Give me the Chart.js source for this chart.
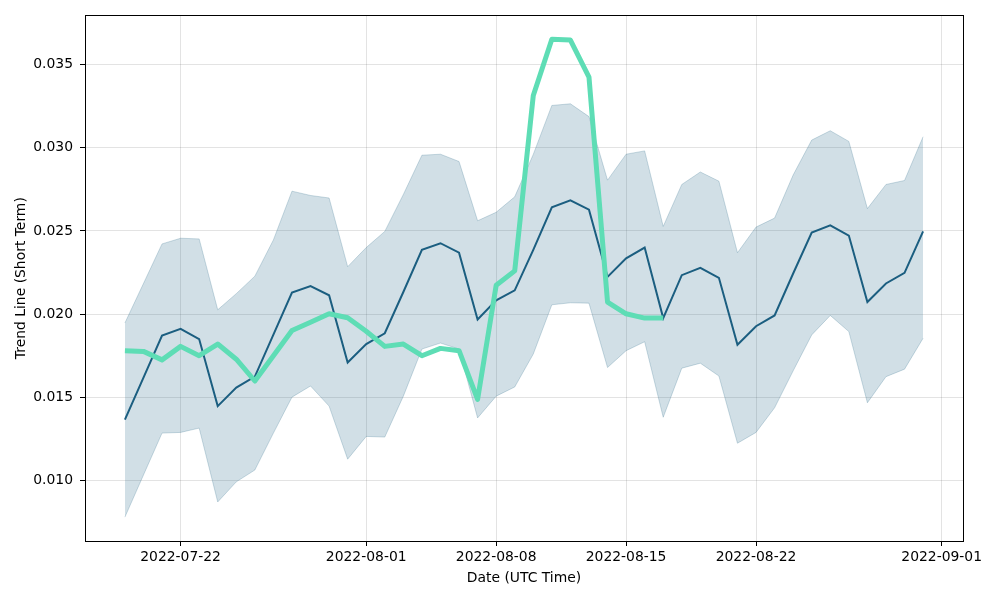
<!DOCTYPE html>
<html>
<head>
<meta charset="utf-8">
<script src="https://cdn.jsdelivr.net/npm/chart.js@4.4.0/dist/chart.umd.min.js"></script>
<style>
  html, body { margin: 0; padding: 0; background: #fff; }
  #wrap { width: 1000px; height: 600px; }
</style>
</head>
<body>
<div id="wrap"><canvas id="trendChart"></canvas></div>
<script>
// daily dates, 2022-07-19 .. 2022-08-31
const dates = [
  '2022-07-19','2022-07-20','2022-07-21','2022-07-22','2022-07-23','2022-07-24','2022-07-25','2022-07-26',
  '2022-07-27','2022-07-28','2022-07-29','2022-07-30','2022-07-31','2022-08-01','2022-08-02','2022-08-03',
  '2022-08-04','2022-08-05','2022-08-06','2022-08-07','2022-08-08','2022-08-09','2022-08-10','2022-08-11',
  '2022-08-12','2022-08-13','2022-08-14','2022-08-15','2022-08-16','2022-08-17','2022-08-18','2022-08-19',
  '2022-08-20','2022-08-21','2022-08-22','2022-08-23','2022-08-24','2022-08-25','2022-08-26','2022-08-27',
  '2022-08-28','2022-08-29','2022-08-30','2022-08-31'
];

const trendLine = [
  0.01366, 0.01618, 0.01871, 0.01911, 0.01850, 0.01447, 0.01558, 0.01624,
  0.01877, 0.02129, 0.02169, 0.02113, 0.01709, 0.01820, 0.01885, 0.02133,
  0.02386, 0.02426, 0.02369, 0.01968, 0.02083, 0.02143, 0.02386, 0.02642,
  0.02684, 0.02628, 0.02224, 0.02335, 0.02400, 0.01976, 0.02234, 0.02278,
  0.02218, 0.01816, 0.01927, 0.01992, 0.02244, 0.02490, 0.02533, 0.02472,
  0.02073, 0.02184, 0.02248, 0.02497
];

const upperBand = [
  0.01947, 0.02184, 0.02422, 0.02456, 0.02452, 0.02026, 0.02123, 0.02228,
  0.02446, 0.02739, 0.02713, 0.02698, 0.02285, 0.02400, 0.02497, 0.02719,
  0.02955, 0.02961, 0.02917, 0.02561, 0.02612, 0.02705, 0.02960, 0.03254,
  0.03264, 0.03187, 0.02805, 0.02961, 0.02981, 0.02527, 0.02779, 0.02854,
  0.02799, 0.02369, 0.02523, 0.02577, 0.02836, 0.03046, 0.03102, 0.03038,
  0.02634, 0.02779, 0.02803, 0.03066
];

const lowerBand = [
  0.00780, 0.01033, 0.01285, 0.01289, 0.01315, 0.00871, 0.00992, 0.01063,
  0.01285, 0.01501, 0.01568, 0.01447, 0.01128, 0.01265, 0.01261, 0.01507,
  0.01790, 0.01826, 0.01790, 0.01376, 0.01507, 0.01562, 0.01760, 0.02056,
  0.02068, 0.02066, 0.01679, 0.01780, 0.01834, 0.01380, 0.01675, 0.01705,
  0.01628, 0.01224, 0.01289, 0.01437, 0.01659, 0.01875, 0.01992, 0.01895,
  0.01467, 0.01624, 0.01669, 0.01855
];

// short-term line stops at 2022-08-17
const shortTerm = [
  0.01780, 0.01776, 0.01725, 0.01806, 0.01750, 0.01820, 0.01729, 0.01598,
  0.01750, 0.01901, 0.01951, 0.02002, 0.01978, 0.01897, 0.01806, 0.01820,
  0.01750, 0.01794, 0.01780, 0.01487, 0.02173, 0.02260, 0.03314, 0.03652,
  0.03647, 0.03425, 0.02072, 0.02002, 0.01976, 0.01976
];

const xTickDates = ['2022-07-22', '2022-08-01', '2022-08-08', '2022-08-15', '2022-08-22', '2022-09-01'];
const yTicks = [0.010, 0.015, 0.020, 0.025, 0.030, 0.035];

const DAY = 86400000;
const t0 = Date.parse(dates[0]);
function dayNum(d) { return (Date.parse(d) - t0) / DAY; }

function toPoints(values) {
  return values.map(function(v, i) { return { x: dayNum(dates[i]), y: v }; });
}

const xTickVals = xTickDates.map(dayNum);
const span = dayNum(dates[dates.length - 1]);
const allVals = upperBand.concat(lowerBand, shortTerm, trendLine);
const yMin = Math.min.apply(null, allVals), yMax = Math.max.apply(null, allVals);
const yPad = (yMax - yMin) * 0.05;

const FONT = 'DejaVu Sans, sans-serif';
const FSIZE = 13.9;

// black frame round the plot, like matplotlib spines
const framePlugin = {
  id: 'frame',
  afterDraw: function(chart) {
    const a = chart.chartArea, c = chart.ctx;
    c.save();
    c.strokeStyle = '#000';
    c.lineWidth = 1;
    c.strokeRect(Math.round(a.left) + 0.5, Math.round(a.top) + 0.5,
                 Math.round(a.right - a.left), Math.round(a.bottom - a.top));
    c.restore();
  }
};

new Chart(document.getElementById('trendChart'), {
  type: 'line',
  data: {
    datasets: [
      {
        data: toPoints(shortTerm),
        borderColor: '#5EDDB5',
        borderWidth: 5,
        borderJoinStyle: 'round',
        pointRadius: 0,
        fill: false
      },
      {
        data: toPoints(trendLine),
        borderColor: '#1B5E80',
        borderWidth: 2,
        pointRadius: 0,
        fill: false
      },
      {
        data: toPoints(lowerBand),
        borderColor: 'rgba(27,94,128,0.22)',
        borderWidth: 1,
        pointRadius: 0,
        fill: false
      },
      {
        data: toPoints(upperBand),
        borderColor: 'rgba(27,94,128,0.22)',
        backgroundColor: 'rgba(27,94,128,0.2)',
        borderWidth: 1,
        pointRadius: 0,
        fill: '-1'
      }
    ]
  },
  options: {
    responsive: true,
    maintainAspectRatio: false,
    animation: false,
    layout: { padding: { left: 0, top: 15, right: 37, bottom: 0 } },
    plugins: {
      legend: { display: false },
      tooltip: { enabled: false }
    },
    scales: {
      x: {
        type: 'linear',
        min: -span * 0.05,
        max: span * 1.05,
        afterFit: function(s) { s.height = 59; },
        afterBuildTicks: function(s) {
          s.ticks = xTickVals.map(function(v) { return { value: v }; });
        },
        ticks: {
          autoSkip: false,
          maxRotation: 0,
          padding: 3,
          color: '#000',
          font: { family: FONT, size: FSIZE },
          callback: function(v) {
            const i = xTickVals.indexOf(v);
            return i >= 0 ? xTickDates[i] : '';
          }
        },
        grid: { color: 'rgba(0,0,0,0.11)', tickColor: '#000', tickLength: 5 },
        border: { display: true, color: '#000' },
        title: {
          display: true,
          text: 'Date (UTC Time)',
          color: '#000',
          font: { family: FONT, size: FSIZE },
          padding: { top: 4, bottom: 13 }
        }
      },
      y: {
        type: 'linear',
        min: yMin - yPad,
        max: yMax + yPad,
        afterFit: function(s) { s.width = 85; },
        afterBuildTicks: function(s) {
          s.ticks = yTicks.map(function(v) { return { value: v }; });
        },
        ticks: {
          padding: 7,
          color: '#000',
          font: { family: FONT, size: FSIZE },
          callback: function(v) { return v.toFixed(3); }
        },
        grid: { color: 'rgba(0,0,0,0.11)', tickColor: '#000', tickLength: 5 },
        border: { display: true, color: '#000' },
        title: {
          display: true,
          text: 'Trend Line (Short Term)',
          color: '#000',
          font: { family: FONT, size: FSIZE },
          padding: { top: 13, bottom: 4 }
        }
      }
    }
  },
  plugins: [framePlugin]
});
</script>
</body>
</html>
